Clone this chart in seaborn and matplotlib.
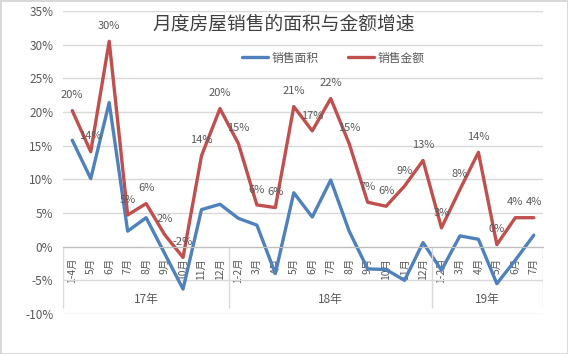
import numpy as np
import pandas as pd
import seaborn as sns
import matplotlib.pyplot as plt

# 数据
months_17 = ['1-4月', '5月', '6月', '7月', '8月', '9月', '10月', '11月', '12月']
months_18 = ['1-2月', '3月', '4月', '5月', '6月', '7月', '8月', '9月', '10月', '11月', '12月']
months_19 = ['1-2月', '3月', '4月', '5月', '6月', '7月']
years = ['17年', '18年', '19年']

area_growth = [15.8, 10.1, 21.4, 2.3, 4.3, -1.0, -6.3, 5.5, 6.3,
               4.2, 3.2, -4.0, 8.0, 4.4, 9.9, 2.3, -3.3, -3.4, -5.0, 0.6,
               -3.5, 1.6, 1.1, -5.5, -2.0, 1.7]
amount_growth = [20.2, 14.1, 30.5, 4.7, 6.4, 1.8, -1.6, 13.5, 20.5,
                 15.3, 6.2, 5.8, 20.8, 17.2, 22.0, 15.3, 6.6, 6.0, 9.0, 12.8,
                 2.8, 8.5, 14.0, 0.3, 4.3, 4.3]
amount_labels = ['20%', '14%', '30%', '5%', '6%', '2%', '-2%', '14%', '20%',
                 '15%', '6%', '6%', '21%', '17%', '22%', '15%', '7%', '6%', '9%', '13%',
                 '3%', '8%', '14%', '0%', '4%', '4%']

BLUE = '#4F81BD'
RED = '#C0504D'
GRAY = '#595959'
GRID = '#d9d9d9'

sns.set_style('white')
plt.rcParams['font.family'] = ['Noto Sans CJK SC', 'DejaVu Sans']

month_labels = months_17 + months_18 + months_19
group_sizes = [len(months_17), len(months_18), len(months_19)]
idx = np.arange(len(month_labels))

df = pd.DataFrame({
    'idx': np.concatenate([idx, idx]),
    'value': area_growth + amount_growth,
    'series': ['销售面积'] * len(idx) + ['销售金额'] * len(idx),
})

fig = plt.figure(figsize=(5.68, 3.54), dpi=100)
fig.patch.set_edgecolor(GRID)
fig.patch.set_linewidth(2)
ax = fig.add_axes([0.111, 0.113, 0.845, 0.856])

sns.lineplot(data=df, x='idx', y='value', hue='series',
             palette={'销售面积': BLUE, '销售金额': RED},
             linewidth=2.4, ax=ax, legend=False)

# 金额数据标签
for i, (v, lab) in enumerate(zip(amount_growth, amount_labels)):
    ax.annotate(lab, (i, v), xytext=(0, 11), textcoords='offset points',
                ha='center', va='center', fontsize=8, color=GRAY)

ax.set_xlim(-0.5, len(idx) - 0.5)
ax.set_ylim(-10, 35)
ax.set_yticks(np.arange(-10, 36, 5))
ax.set_yticklabels([f'{t}%' for t in range(-10, 36, 5)], fontsize=8.5, color=GRAY)
ax.yaxis.grid(True, color=GRID, linewidth=1)
ax.set_axisbelow(True)

for s in ['left', 'right', 'top']:
    ax.spines[s].set_visible(False)
ax.spines['bottom'].set_position(('data', 0))
ax.spines['bottom'].set_color('#bfbfbf')

ax.set_xticks(idx)
ax.set_xticklabels(month_labels, rotation=90, fontsize=7.5, color=GRAY)
ax.tick_params(axis='x', length=0, pad=8)
ax.tick_params(axis='y', length=0, pad=7)
ax.set_xlabel('')
ax.set_ylabel('')

# 年份分组
bounds = np.concatenate([[0], np.cumsum(group_sizes)]) - 0.5
ax.vlines(bounds, -9.1, 0, color=GRID, linewidth=1)
for yr, a, b in zip(years, bounds[:-1], bounds[1:]):
    ax.text((a + b) / 2, -7.9, yr, ha='center', va='center', fontsize=8.5, color=GRAY)

fig.text(0.5, 0.932, '月度房屋销售的面积与金额增速', ha='center', va='center',
         fontsize=13.5, color='#404040')

handles = [plt.Line2D([], [], color=BLUE, linewidth=2.4),
           plt.Line2D([], [], color=RED, linewidth=2.4)]
fig.legend(handles, ['销售面积', '销售金额'], loc='center', ncol=2,
           bbox_to_anchor=(0.586, 0.836), frameon=False, fontsize=8.5,
           labelcolor=GRAY, handlelength=2.2, columnspacing=2.5, handletextpad=0.3)

fig.savefig('out.png', dpi=100)
